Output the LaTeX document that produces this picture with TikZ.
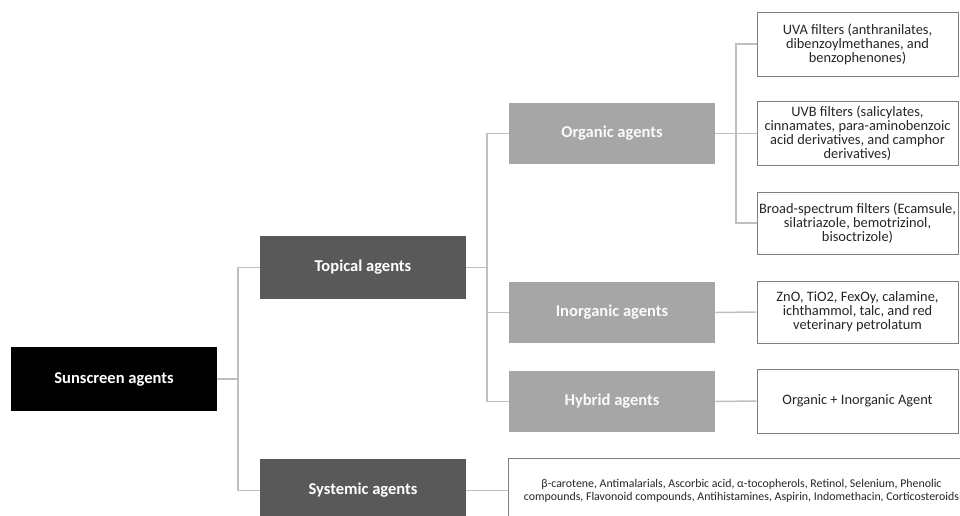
\documentclass[tikz,border=0pt]{standalone}
\usepackage{fontspec}
\setmainfont{Carlito}
\definecolor{darkbox}{HTML}{595959}
\definecolor{lightbox}{HTML}{A6A6A6}
\definecolor{conn}{HTML}{BFBFBF}
\definecolor{resborder}{HTML}{808080}
\begin{document}
\begin{tikzpicture}[x=0.75pt,y=-0.75pt,
  catbox/.style={rectangle, inner sep=0pt, minimum width=154.5pt, text=white, font=\bfseries\fontsize{12.4}{14}\selectfont},
  rootbox/.style={catbox, fill=black, minimum height=48pt},
  darkcat/.style={catbox, fill=darkbox, minimum height=47.25pt},
  lightcat/.style={catbox, fill=lightbox, minimum height=45.75pt, text=white!94!lightbox},
  resbox/.style={rectangle, draw=resborder, line width=0.7pt, fill=white, inner sep=0pt, minimum width=150.75pt, align=center, font=\fontsize{10.8}{10.5}\selectfont, text=black!85},
  link/.style={draw=conn, line width=1.1pt}]
\path[use as bounding box] (0,0) rectangle (960,516);
\clip (0,0) rectangle (960,516);
% nodes
\node[rootbox] (sun) at (114,379) {Sunscreen agents};
\node[darkcat] (top) at (363,267.5) {Topical agents};
\node[darkcat] (sys) at (363,490.5) {Systemic agents};
\node[lightcat] (org) at (612,133.5) {Organic agents};
\node[lightcat] (inorg) at (612,312.5) {Inorganic agents};
\node[lightcat] (hyb) at (612,401.5) {Hybrid agents};
\node[resbox, minimum height=48pt] (uva) at (857.5,44) {UVA filters (anthranilates,\\dibenzoylmethanes, and\\benzophenones)};
\node[resbox, minimum height=47.5pt] (uvb) at (857.5,133.5) {UVB filters (salicylates,\\cinnamates, para-aminobenzoic\\acid derivatives, and camphor\\derivatives)};
\node[resbox, minimum height=46.5pt] (broad) at (857.5,223) {Broad-spectrum filters (Ecamsule,\\silatriazole, bemotrizinol,\\bisoctrizole)};
\node[resbox, minimum height=46.5pt] (zno) at (857.5,312) {ZnO, TiO2, FexOy, calamine,\\ichthammol, talc, and red\\veterinary petrolatum};
\node[resbox, minimum height=48pt] (hybres) at (857.5,401) {Organic + Inorganic Agent};
\node[resbox, minimum width=350.25pt, minimum height=48pt, font=\fontsize{8.9}{9.6}\selectfont] (sysres) at (741.5,490.5) {β-carotene, Antimalarials, Ascorbic acid, α-tocopherols, Retinol, Selenium, Phenolic\\compounds, Flavonoid compounds, Antihistamines, Aspirin, Indomethacin, Corticosteroids};
% junctions
\coordinate (j1) at (238,379);
\coordinate (j2) at (487,267.5);
\coordinate (j3) at (736,133.5);
% connectors
\draw[link] (sun.east) -- (j1);
\draw[link] (j1) |- (top.west);
\draw[link] (j1) |- (sys.west);
\draw[link] (top.east) -- (j2);
\draw[link] (j2) |- (org.west);
\draw[link] (j2) |- (inorg.west);
\draw[link] (j2) |- (hyb.west);
\draw[link] (org.east) -- (j3);
\draw[link] (j3) |- (uva.west);
\draw[link] (j3) -- (uvb.west);
\draw[link] (j3) |- (broad.west);
\draw[link] (inorg.east) -- (zno.west);
\draw[link] (hyb.east) -- (hybres.west);
\draw[link] (sys.east) -- (sysres.west);
\end{tikzpicture}
\end{document}
